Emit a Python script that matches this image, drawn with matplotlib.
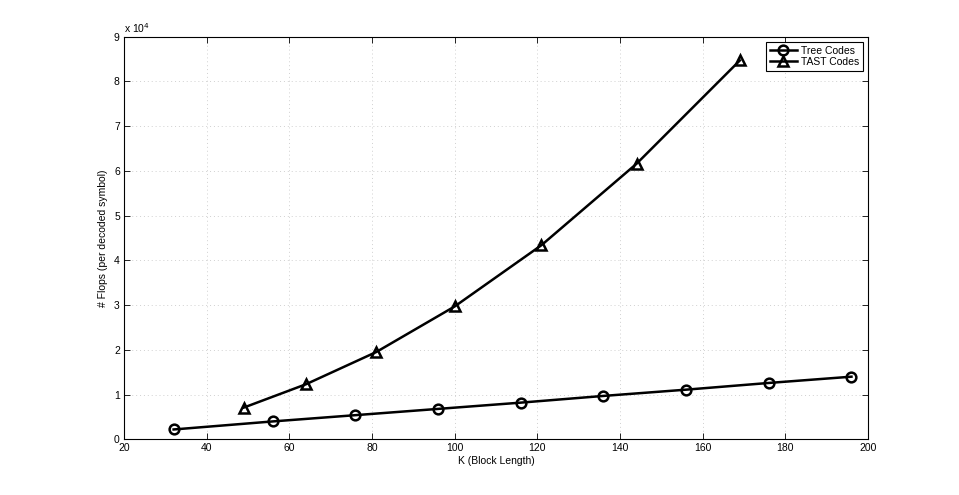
import matplotlib.pyplot as plt
from matplotlib.ticker import FuncFormatter

# Tree codes
tree_k = [32, 56, 76, 96, 116, 136, 156, 176, 196]
tree_flops = [2200, 4000, 5400, 6800, 8200, 9700, 11100, 12600, 14000]

# TAST codes
tast_k = [49, 64, 81, 100, 121, 144, 169]
tast_flops = [7100, 12300, 19500, 29700, 43400, 61600, 84700]

x_ticks = [20, 40, 60, 80, 100, 120, 140, 160, 180, 200]
y_ticks = [0, 1e4, 2e4, 3e4, 4e4, 5e4, 6e4, 7e4, 8e4, 9e4]

plt.rcParams['font.family'] = ['Liberation Sans', 'DejaVu Sans']
plt.rcParams['font.size'] = 7.5

fig = plt.figure(figsize=(9.59, 4.95), dpi=100)
ax = fig.add_axes([0.1293, 0.1125, 0.7758, 0.8133])

ax.plot(tree_k, tree_flops, color='black', linewidth=1.8, marker='o',
        markersize=7, markerfacecolor='none', markeredgewidth=1.8, label='Tree Codes')
ax.plot(tast_k, tast_flops, color='black', linewidth=1.8, marker='^',
        markersize=7.5, markerfacecolor='none', markeredgewidth=1.8, label='TAST Codes')

ax.set_xlim(20, 200)
ax.set_ylim(0, 9e4)
ax.set_xticks(x_ticks)
ax.set_yticks(y_ticks)
ax.yaxis.set_major_formatter(FuncFormatter(lambda v, p: '%g' % (v / 1e4)))
ax.tick_params(direction='in', top=True, right=True, length=4, width=0.6, pad=3)
ax.grid(True, color='#d0d0d0', linestyle=(0, (1, 3)), linewidth=0.7)
for s in ax.spines.values():
    s.set_linewidth(0.8)

ax.text(0.0, 1.005, 'x 10$^4$', transform=ax.transAxes, ha='left', va='bottom', fontsize=7.5)

ax.set_xlabel('K (Block Length)', labelpad=2)
ax.set_ylabel('# Flops (per decoded symbol)', labelpad=4)

leg = ax.legend(loc='upper right', fancybox=False, edgecolor='black', framealpha=1,
                handlelength=2.6, borderpad=0.35, labelspacing=0.15, handletextpad=0.4,
                borderaxespad=0.5, fontsize=7.5)
leg.get_frame().set_linewidth(0.8)

plt.savefig('out.png', dpi=100)
plt.close()
